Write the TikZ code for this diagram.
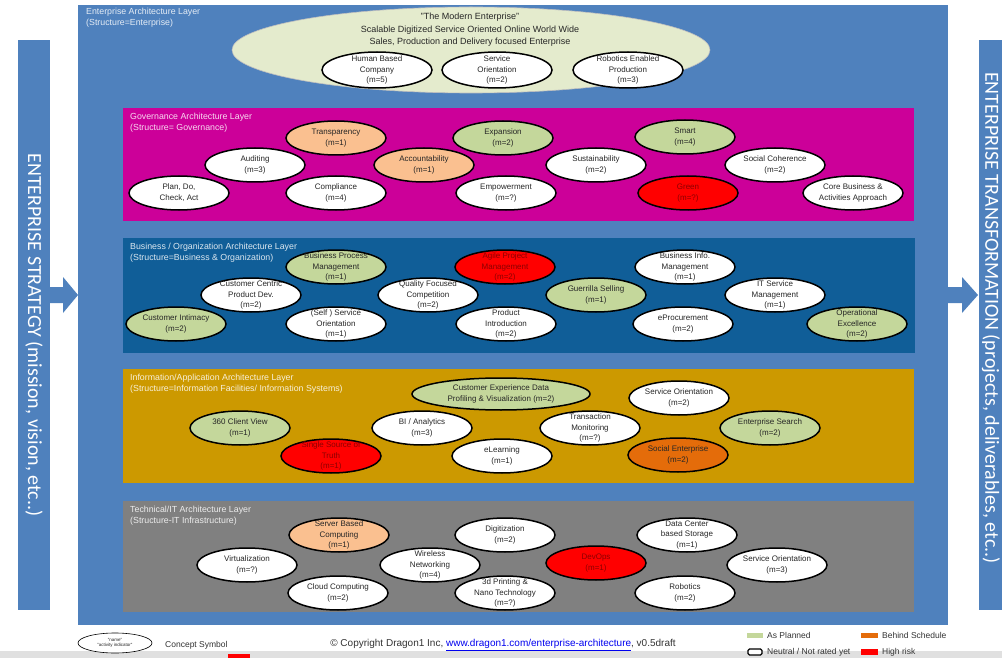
\documentclass[tikz,border=0pt]{standalone}
\usepackage{fontspec}
\setmainfont{Liberation Sans}
\newfontfamily\barfont{Carlito}
\usetikzlibrary{shapes.geometric}

\definecolor{frameblue}{RGB}{79,129,189}
\definecolor{govmagenta}{RGB}{204,0,153}
\definecolor{busblue}{RGB}{16,94,152}
\definecolor{infogold}{RGB}{204,153,0}
\definecolor{techgray}{RGB}{128,128,128}
\definecolor{planned}{RGB}{196,215,155}
\definecolor{paleplanned}{RGB}{228,235,205}
\definecolor{lateorange}{RGB}{250,192,144}
\definecolor{behind}{RGB}{228,108,10}
\definecolor{riskred}{RGB}{255,0,0}
\definecolor{linkblue}{RGB}{0,0,238}

\tikzset{
  concept/.style={ellipse, draw=black, line width=1.5pt, fill=white,
    minimum width=100pt, minimum height=34pt, inner sep=0pt},
  conceptlabel/.style={align=center, inner sep=0pt, text=black!85,
    font=\fontsize{8}{10.8}\selectfont},
  risklabel/.style={conceptlabel, text=red!55!black},
  layerlabel/.style={anchor=north west, align=left, inner sep=0pt, text=white,
    text opacity=0.85, font=\fontsize{8.8}{11}\selectfont},
  barlabel/.style={rotate=-90, text=white, font=\barfont\fontsize{20}{24}\selectfont},
  legendlabel/.style={anchor=west, inner sep=0pt, text=black!80,
    font=\fontsize{8.5}{10}\selectfont},
}

\begin{document}
\begin{tikzpicture}[x=1pt, y=-1pt]
\useasboundingbox (0,0) rectangle (1002,658);

% Bottom page strip
\fill[black!12] (0,651) rectangle (1002,658);
\fill[riskred] (228,654) rectangle (250,658);

% Strategy bar on the left
\fill[frameblue] (18,40) rectangle (50,610);
\node[barlabel] (strategy) at (34,335) {ENTERPRISE STRATEGY (mission, vision, etc..)};
\fill[frameblue] (50,287) -- (63,287) -- (63,277) -- (78,295) -- (63,313) -- (63,303) -- (50,303) -- cycle;

% Transformation bar on the right
\fill[frameblue] (979,40) rectangle (1002,610);
\fill[frameblue] (948,287) -- (962,287) -- (962,277) -- (978,295) -- (962,313) -- (962,303) -- (948,303) -- cycle;
\node[barlabel] (transformation) at (991,318) {ENTERPRISE TRANSFORMATION (projects, deliverables, etc..)};

% Enterprise frame
\fill[frameblue] (78,5) rectangle (948,625);
\node[layerlabel] (entlabel) at (86,8) {Enterprise Architecture Layer\\(Structure=Enterprise)};

% The modern enterprise
\node[concept, draw=black!25, line width=0.6pt, fill=paleplanned, minimum width=478pt, minimum height=86pt] (modern) at (471,50) {};
\node[conceptlabel, font=\fontsize{9}{12.5}\selectfont] (moderntitle) at (470,30)
  {"The Modern Enterprise"\\Scalable Digitized Service Oriented Online World Wide\\Sales, Production and Delivery focused Enterprise};
\node[concept, minimum width=110pt, minimum height=36pt, label={[conceptlabel]center:{Human Based\\Company\\(m=5)}}] (human) at (377,70) {};
\node[concept, minimum width=110pt, minimum height=36pt, label={[conceptlabel]center:{Service\\Orientation\\(m=2)}}] (service) at (497,70) {};
\node[concept, minimum width=110pt, minimum height=36pt, label={[conceptlabel]center:{Robotics Enabled\\Production\\(m=3)}}] (robotics) at (628,70) {};

% Governance layer
\fill[govmagenta] (123,108) rectangle (914,221);
\node[layerlabel] (govlabel) at (130,113) {Governance Architecture Layer\\(Structure= Governance)};
\node[concept, label={[conceptlabel]center:{Plan, Do,\\Check, Act}}] (plan) at (179,193) {};
\node[concept, label={[conceptlabel]center:{Auditing\\(m=3)}}] (auditing) at (255,165) {};
\node[concept, fill=lateorange, label={[conceptlabel]center:{Transparency\\(m=1)}}] (transparency) at (336,138) {};
\node[concept, label={[conceptlabel]center:{Compliance\\(m=4)}}] (compliance) at (336,193) {};
\node[concept, fill=lateorange, label={[conceptlabel]center:{Accountability\\(m=1)}}] (accountability) at (424,165) {};
\node[concept, fill=planned, label={[conceptlabel]center:{Expansion\\(m=2)}}] (expansion) at (503,138) {};
\node[concept, label={[conceptlabel]center:{Empowerment\\(m=?)}}] (empowerment) at (506,193) {};
\node[concept, label={[conceptlabel]center:{Sustainability\\(m=2)}}] (sustainability) at (596,165) {};
\node[concept, fill=planned, label={[conceptlabel]center:{Smart\\(m=4)}}] (smart) at (685,137) {};
\node[concept, fill=riskred, label={[risklabel]center:{Green\\(m=?)}}] (green) at (688,193) {};
\node[concept, label={[conceptlabel]center:{Social Coherence\\(m=2)}}] (coherence) at (775,165) {};
\node[concept, label={[conceptlabel]center:{Core Business \&\\Activities Approach}}] (corebusiness) at (853,193) {};

% Business / organization layer
\fill[busblue] (123,238) rectangle (915,353);
\node[layerlabel] (buslabel) at (130,243) {Business / Organization Architecture Layer\\(Structure=Business \& Organization)};
\node[concept, fill=planned, label={[conceptlabel]center:{Business Process\\Management\\(m=1)}}] (bpm) at (336,267) {};
\node[concept, fill=riskred, label={[risklabel]center:{Agile Project\\Management\\(m=2)}}] (agile) at (505,267) {};
\node[concept, label={[conceptlabel]center:{Business Info.\\Management\\(m=1)}}] (bim) at (685,267) {};
\node[concept, label={[conceptlabel]center:{Customer Centric\\Product Dev.\\(m=2)}}] (centric) at (251,295) {};
\node[concept, label={[conceptlabel]center:{Quality Focused\\Competition\\(m=2)}}] (quality) at (428,295) {};
\node[concept, fill=planned, label={[conceptlabel]center:{Guerrilla Selling\\(m=1)}}] (guerrilla) at (596,295) {};
\node[concept, label={[conceptlabel]center:{IT Service\\Management\\(m=1)}}] (itsm) at (775,295) {};
\node[concept, fill=planned, label={[conceptlabel]center:{Customer Intimacy\\(m=2)}}] (intimacy) at (176,324) {};
\node[concept, label={[conceptlabel]center:{(Self ) Service\\Orientation\\(m=1)}}] (selfservice) at (336,324) {};
\node[concept, label={[conceptlabel]center:{Product\\Introduction\\(m=2)}}] (introduction) at (506,324) {};
\node[concept, label={[conceptlabel]center:{eProcurement\\(m=2)}}] (eprocurement) at (683,324) {};
\node[concept, fill=planned, label={[conceptlabel]center:{Operational\\Excellence\\(m=2)}}] (excellence) at (857,324) {};

% Information / application layer
\fill[infogold] (123,369) rectangle (914,483);
\node[layerlabel] (infolabel) at (130,374) {Information/Application Architecture Layer\\(Structure=Information Facilities/ Information Systems)};
\node[concept, fill=planned, minimum width=178pt, minimum height=32pt, label={[conceptlabel]center:{Customer Experience Data\\Profiling \& Visualization (m=2)}}] (cxdata) at (501,394) {};
\node[concept, label={[conceptlabel]center:{Service Orientation\\(m=2)}}] (orientinfo) at (679,398) {};
\node[concept, fill=planned, label={[conceptlabel]center:{360 Client View\\(m=1)}}] (clientview) at (240,428) {};
\node[concept, label={[conceptlabel]center:{BI / Analytics\\(m=3)}}] (analytics) at (422,428) {};
\node[concept, label={[conceptlabel]center:{Transaction\\Monitoring\\(m=?)}}] (transaction) at (590,428) {};
\node[concept, fill=planned, label={[conceptlabel]center:{Enterprise Search\\(m=2)}}] (search) at (770,428) {};
\node[concept, fill=riskred, label={[risklabel]center:{Single Source of\\Truth\\(m=1)}}] (truth) at (331,456) {};
\node[concept, label={[conceptlabel]center:{eLearning\\(m=1)}}] (elearning) at (502,456) {};
\node[concept, fill=behind, label={[conceptlabel]center:{Social Enterprise\\(m=2)}}] (socialent) at (678,455) {};

% Technical / IT layer
\fill[techgray] (123,501) rectangle (914,612);
\node[layerlabel] (techlabel) at (130,506) {Technical/IT Architecture Layer\\(Structure-IT Infrastructure)};
\node[concept, fill=lateorange, label={[conceptlabel]center:{Server Based\\Computing\\(m=1)}}] (server) at (339,535) {};
\node[concept, label={[conceptlabel]center:{Digitization\\(m=2)}}] (digitization) at (505,535) {};
\node[concept, label={[conceptlabel]center:{Data Center\\based Storage\\(m=1)}}] (datacenter) at (687,535) {};
\node[concept, label={[conceptlabel]center:{Virtualization\\(m=?)}}] (virtualization) at (247,565) {};
\node[concept, label={[conceptlabel]center:{Wireless\\Networking\\(m=4)}}] (wireless) at (430,565) {};
\node[concept, fill=riskred, label={[risklabel]center:{DevOps\\(m=1)}}] (devops) at (596,563) {};
\node[concept, label={[conceptlabel]center:{Service Orientation\\(m=3)}}] (orienttech) at (777,565) {};
\node[concept, label={[conceptlabel]center:{Cloud Computing\\(m=2)}}] (cloud) at (338,593) {};
\node[concept, label={[conceptlabel]center:{3d Printing \&\\Nano Technology\\(m=?)}}] (printing) at (505,593) {};
\node[concept, label={[conceptlabel]center:{Robotics\\(m=2)}}] (robotics2) at (685,593) {};

% Legend
\node[concept, line width=0.6pt, minimum width=74pt, minimum height=20pt,
  label={[conceptlabel, font=\fontsize{4.5}{5.5}\selectfont]center:{"name"\\"activity indicator"}}] (symbol) at (115,643) {};
\node[legendlabel] (symbollabel) at (165,645) {Concept Symbol};
\node[inner sep=0pt, text=black!80, font=\fontsize{10}{12}\selectfont] (copyright) at (503,645)
  {© Copyright Dragon1 Inc, \textcolor{linkblue}{\underline{www.dragon1.com/enterprise-architecture}}, v0.5draft};
\fill[planned] (747,633) rectangle (763,638);
\node[legendlabel] (plannedlabel) at (767,635) {As Planned};
\fill[behind] (861,633) rectangle (878,638);
\node[legendlabel] (behindlabel) at (882,635) {Behind Schedule};
\draw[black, line width=1.2pt, fill=white, rounded corners=1.5pt] (748,649) rectangle (762,655);
\node[legendlabel] (neutrallabel) at (767,652) {Neutral / Not rated yet};
\fill[riskred] (861,649) rectangle (878,655);
\node[legendlabel] (risklabel) at (882,652) {High risk};

\end{tikzpicture}
\end{document}
